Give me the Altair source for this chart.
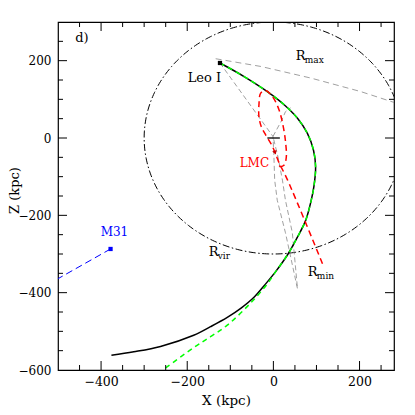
import altair as alt
import pandas as pd
import numpy as np

# ---------------- data (kpc) ----------------
# Leo I orbit, common upper part
orbit_up_x = [-124, -68, -14, 25, 56, 79, 93, 98, 94, 87, 75, 56, 34, 7]
orbit_up_z = [194, 159, 120, 86, 51, 12, -31, -75, -126, -165, -213, -256, -300, -343]
# black (solid) tail
black_tail_x = [-20, -45, -75, -107, -146, -185, -262, -324, -376]
black_tail_z = [-380, -412, -440, -464, -488, -510, -539, -553, -562]
# green (dashed) tail
green_tail_x = [-14, -53, -107, -146, -185, -247, -257]
green_tail_z = [-377, -427, -484, -514, -542, -592, -600]

# LMC orbit (red dashed)
lmc_x = [114, 33, 12, 3, -6, -18, -28, -33.5, -33.5, -29.5, -18, -2, 13, 23, 28.6, 30, 25, 15, 10]
lmc_z = [-325, -109, -61, -35, -14, 8, 29, 55, 86, 116, 123, 107, 73, 29, -14, -49, -70, -73, -62]

# grey dashed guide lines
rmax_line_x = [-134, -29, 87, 203, 280]
rmax_line_z = [205, 185, 155, 120, 92]
rmin_line_x = [-124, -1, 1, 3, 9, 28, 56, 44, 28, 21, 11, -1, 19, 28, 40]
rmin_line_z = [194, 4, -40, -109, -161, -245, -390, -245, -161, -109, -50, 4, 45, 68, 78]

# M31 direction (blue dashed)
m31_line_x = [-378, -505]
m31_line_z = [-287, -367]

# virial radius circle
r_vir = 300

# disk marker at the origin
disk_x = [-14]
disk_x2 = [15]
disk_z = [0]

# point markers
leo_pt = (-124, 194)
m31_pt = (-378, -287)
lmc_pt = (4, -38)

# labels
lab_text = ["d)", "Leo I", "LMC", "M31"]
lab_x = [-460, -199, -10, -369]
lab_z = [247, 146, -74, -254]
lab_col = ["black", "black", "red", "blue"]
lab_align = ["left", "left", "right", "center"]
lab_size = [13, 13, 12, 12]

r_lab_x = [52, -150, 80]
r_lab_z = [203, -304, -356]
r_sub = ["max", "vir", "min"]

# axis ticks
x_labels = [-400, -200, 0, 200]
y_labels = [-600, -400, -200, 0, 200]
x_ticks = list(range(-450, 280, 50))
y_ticks = list(range(-550, 300, 50))

# ---------------- chart ----------------
W, H = 336, 348
FONT = "DejaVu Serif"

xs = alt.Scale(domain=[-500, 280], nice=False, zero=False)
ys = alt.Scale(domain=[-600, 300], nice=False, zero=False)
xax = alt.Axis(values=x_labels, title="X (kpc)", ticks=False, domain=False, grid=False,
               labelPadding=5, titlePadding=6, format="d", labelFontSize=12.5,
               titleFontSize=13.5)
yax = alt.Axis(values=y_labels, title="Z (kpc)", ticks=False, domain=False, grid=False,
               labelPadding=7, titleX=-40, titleY=H / 2 - 6, titleBaseline="alphabetic",
               format="d", labelFontSize=12, titleFontSize=13)


def X(f="x"):
    return alt.X(f"{f}:Q", scale=xs, axis=xax)


def Y(f="z"):
    return alt.Y(f"{f}:Q", scale=ys, axis=yax)


def path_df(xl, zl):
    return pd.DataFrame({"x": xl, "z": zl, "i": range(len(xl))})


def line(df, color, width, dash=None, interp="catmull-rom"):
    kw = dict(color=color, strokeWidth=width, clip=True, interpolate=interp)
    if dash:
        kw["strokeDash"] = dash
    return alt.Chart(df).mark_line(**kw).encode(x=X(), y=Y(), order=alt.Order("i:Q"))


ang = np.linspace(0, 2 * np.pi, 361)
circle_df = path_df(r_vir * np.cos(ang), r_vir * np.sin(ang))

layers = []
layers.append(line(circle_df, "black", 1, [7, 2.5, 1.5, 2.5], interp="linear"))
layers.append(line(path_df(rmax_line_x, rmax_line_z), "#888888", 0.8, [6, 4], interp="linear"))
layers.append(line(path_df(rmin_line_x, rmin_line_z), "#888888", 0.8, [5, 3], interp="linear"))
layers.append(line(path_df(orbit_up_x + black_tail_x, orbit_up_z + black_tail_z), "black", 1.5))
layers.append(line(path_df(orbit_up_x + green_tail_x, orbit_up_z + green_tail_z), "#00ff00", 1.5, [5, 4]))
layers.append(line(path_df(lmc_x, lmc_z), "red", 1.5, [6, 4]))
layers.append(line(path_df(m31_line_x, m31_line_z), "blue", 1, [7, 4], interp="linear"))

disk_df = pd.DataFrame({"x": disk_x, "x2": disk_x2, "z": disk_z})
layers.append(alt.Chart(disk_df).mark_rule(color="black", strokeWidth=1.3).encode(
    x=X(), x2="x2:Q", y=Y()))

pts = pd.DataFrame({"x": [leo_pt[0], m31_pt[0]], "z": [leo_pt[1], m31_pt[1]],
                    "c": ["black", "blue"]})
layers.append(alt.Chart(pts).mark_square(size=18, opacity=1, filled=True).encode(
    x=X(), y=Y(), color=alt.Color("c:N", scale=None)))
layers.append(alt.Chart(pd.DataFrame({"x": [lmc_pt[0]], "z": [lmc_pt[1]]})).mark_point(
    shape="triangle-down", size=22, filled=True, color="#cc0000", opacity=1, angle=340).encode(
    x=X(), y=Y()))

for t, lx, lz, c, a, s in zip(lab_text, lab_x, lab_z, lab_col, lab_align, lab_size):
    d = pd.DataFrame({"x": [lx], "z": [lz], "t": [t]})
    layers.append(alt.Chart(d).mark_text(font=FONT, fontSize=s, color=c, align=a,
                                         baseline="alphabetic").encode(
        x=X(), y=Y(), text="t:N"))

rdf = pd.DataFrame({"x": r_lab_x, "z": r_lab_z, "t": ["R"] * 3, "s": r_sub})
layers.append(alt.Chart(rdf).mark_text(font=FONT, fontSize=13, color="black", align="left",
                                       baseline="alphabetic").encode(x=X(), y=Y(), text="t:N"))
layers.append(alt.Chart(rdf).mark_text(font=FONT, fontSize=9, color="black", align="left",
                                       baseline="alphabetic", dx=9, dy=3).encode(
    x=X(), y=Y(), text="s:N"))

# inward ticks on all four sides
xt = pd.DataFrame({"x": x_ticks, "major": [v % 200 == 0 for v in x_ticks]})
yt = pd.DataFrame({"z": y_ticks, "major": [v % 200 == 0 for v in y_ticks]})
for major, ln in [(True, 9), (False, 5)]:
    dx_ = xt[xt["major"] == major]
    dy_ = yt[yt["major"] == major]
    tk = dict(color="black", strokeWidth=1)
    layers.append(alt.Chart(dx_).mark_rule(**tk).encode(x=X(), y=alt.value(H), y2=alt.value(H - ln)))
    layers.append(alt.Chart(dx_).mark_rule(**tk).encode(x=X(), y=alt.value(0), y2=alt.value(ln)))
    layers.append(alt.Chart(dy_).mark_rule(**tk).encode(y=Y(), x=alt.value(0), x2=alt.value(ln)))
    layers.append(alt.Chart(dy_).mark_rule(**tk).encode(y=Y(), x=alt.value(W), x2=alt.value(W - ln)))

chart = alt.layer(*layers).properties(
    width=W, height=H,
    autosize=alt.AutoSizeParams(type="none"),
    padding={"left": 50, "top": 14, "right": 12, "bottom": 40},
    background="white",
).configure_view(stroke="black", strokeWidth=1.2).configure_axis(
    labelFont=FONT, labelColor="black",
    titleFont=FONT, titleFontWeight="normal", titleColor="black",
)

chart.save("out.html", embed_options={"renderer": "svg", "actions": False})
